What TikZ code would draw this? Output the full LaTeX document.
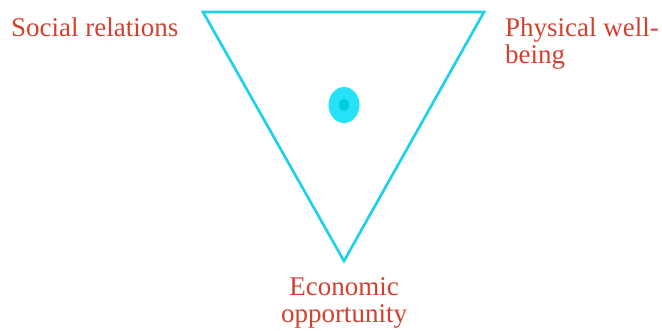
\documentclass[tikz,border=0pt]{standalone}
\usepackage{fontspec}
\setmainfont{Liberation Serif}
\usetikzlibrary{shapes.geometric}
\definecolor{lab}{HTML}{D4402E}
\definecolor{tri}{HTML}{1FD2EA}
\definecolor{dotout}{HTML}{26E2F6}
\definecolor{dotin}{HTML}{00CCE2}
\begin{document}
\begin{tikzpicture}[x=1pt,y=-1pt,
  lbl/.style={text=lab,font=\fontsize{27}{27}\selectfont,inner sep=0pt},
  edge/.style={draw=tri,line width=2.7pt,line join=miter}]
\useasboundingbox (0,0) rectangle (662,331);
\coordinate (tl) at (203,12);
\coordinate (tr) at (484,12);
\coordinate (bt) at (344,261);
\draw[edge] (tl) -- (tr) -- (bt) -- cycle;
\node[fill=dotout,ellipse,minimum width=31pt,minimum height=36pt,inner sep=0pt] (dot) at (344,105) {};
\node[fill=dotin,ellipse,minimum width=10pt,minimum height=12pt,inner sep=0pt] (core) at (dot.center) {};
\node[lbl,anchor=base west] (soc) at (11,37) {Social relations};
\node[lbl,anchor=base west,align=left] (phy) at (505,64) {Physical well-\\being};
\node[lbl,anchor=base,align=center] (eco) at (344,323) {Economic\\opportunity};
\end{tikzpicture}
\end{document}
